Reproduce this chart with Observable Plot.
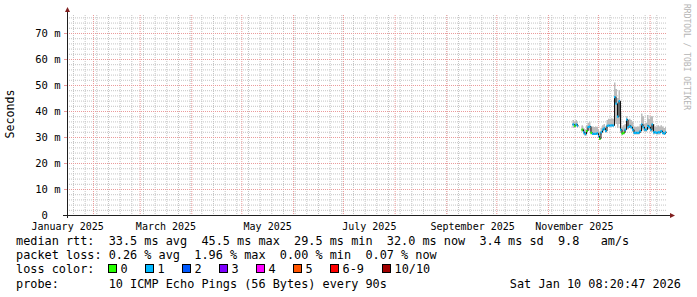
<!DOCTYPE html>
<html><head><meta charset="utf-8">
<script src="https://cdn.jsdelivr.net/npm/d3@7"></script>
<script src="https://cdn.jsdelivr.net/npm/@observablehq/plot@0.6"></script>
<style>
body{margin:0;background:#fff;}
#wrap{position:relative;width:697px;height:297px;font-family:"DejaVu Sans Mono",monospace;font-size:11.85px;color:#000;overflow:hidden;}
#wrap svg{position:absolute;left:0;top:0;}
.row{position:absolute;white-space:pre;line-height:14px;}
.box{position:absolute;width:7px;height:7px;border:1px solid #000;}
</style></head><body><div id="wrap"></div>
<script>
// ---- data ----
const dates = [
"2025-11-15T17:00Z","2025-11-16T15:00Z","2025-11-17T12:00Z","2025-11-18T10:00Z","2025-11-18T22:00Z","2025-11-19T12:00Z",
"2025-11-21T03:00Z","2025-11-22T00:00Z","2025-11-22T22:00Z","2025-11-23T20:00Z","2025-11-24T17:00Z","2025-11-25T15:00Z",
"2025-11-26T12:00Z","2025-11-27T10:00Z","2025-11-28T08:00Z","2025-11-29T05:00Z","2025-11-30T03:00Z","2025-12-01T00:00Z",
"2025-12-01T15:00Z","2025-12-02T12:00Z","2025-12-03T10:00Z","2025-12-04T08:00Z","2025-12-05T05:00Z","2025-12-06T03:00Z",
"2025-12-07T00:00Z","2025-12-07T22:00Z","2025-12-08T20:00Z","2025-12-09T17:00Z","2025-12-10T15:00Z","2025-12-11T12:00Z",
"2025-12-12T10:00Z","2025-12-13T08:00Z","2025-12-14T05:00Z","2025-12-15T03:00Z","2025-12-16T00:00Z","2025-12-16T22:00Z",
"2025-12-17T20:00Z","2025-12-18T17:00Z","2025-12-19T15:00Z","2025-12-20T12:00Z","2025-12-21T10:00Z","2025-12-22T08:00Z",
"2025-12-23T05:00Z","2025-12-24T03:00Z","2025-12-25T00:00Z","2025-12-25T22:00Z","2025-12-26T20:00Z","2025-12-27T17:00Z",
"2025-12-28T15:00Z","2025-12-29T12:00Z","2025-12-30T10:00Z","2025-12-31T08:00Z","2026-01-01T05:00Z","2026-01-02T03:00Z",
"2026-01-03T00:00Z","2026-01-03T22:00Z","2026-01-04T20:00Z","2026-01-05T17:00Z","2026-01-06T15:00Z","2026-01-07T12:00Z",
"2026-01-08T10:00Z","2026-01-09T08:00Z","2026-01-10T05:00Z","2026-01-10T20:00Z"];
const medianMs = [
35,34.5,35,34.5,34.5,null,
33,32,31.3,32.5,34,34.2,
31.8,31.4,31.4,31.4,31.6,30.5,
29.5,32,33,33.5,32.5,34.5,
34.6,34.6,34.7,34.6,45.5,43,
38,44,33,31.5,31.8,33,
36.9,34,34.5,34,33,31.8,
31.8,31.8,31.8,32.5,35,34,
33,33,34.5,34,33,35,
32,32,31.8,32,32,32.5,
31.8,31.5,32,32];
const smokeLoMs = [
33.5,33.5,34,33.5,33.5,null,
32,31,30.5,31.5,32.5,32.5,
31,31,31,31,31,29.8,
29,31,32,32.5,31.5,33.5,
34,34,34,34,36,35,
33.5,35,31.5,31,31,32,
33,33,33.5,33,32,31,
31,31,31,31.5,33,32.5,
32,32,33,33,32,32,
31,31.2,31,31,31,31.5,
31,31,31,31];
const smokeHiMs = [
36.5,36,36.5,36,36,null,
34.5,33.5,33,34.5,35.5,36,
34,34,33.8,34,33.8,33,
32,33.5,34.5,35,34,36.5,
37,37,37.2,37,51,48.5,
45,48,40,34,34.5,35,
38,36.5,37,36.5,36,34,
33.8,34,34,35,39,38,
35,35.5,38.5,37,38,38,
35,34,34,34.5,34,34.5,
34,33.5,33.8,33.8];
const lossBucket = [
1,0,1,1,1,null,
0,1,1,0,1,1,
0,1,1,1,1,1,
0,1,1,1,1,1,
1,1,1,1,1,1,
1,1,1,0,0,1,
1,1,1,1,1,1,
1,1,1,1,1,1,
1,1,1,1,1,1,
1,1,1,1,1,1,
1,1,1,1];
const lossLabels = ["0","1","2","3","4","5","6-9","10/10"];
const lossColors = ["#26ff00","#00b8ff","#0059ff","#7e00ff","#ff00ff","#ff5500","#ff0000","#a10000"];
const yTicks = [0,10,20,30,40,50,60,70];
const xLabelDates = ["2025-01-16T12:00Z","2025-03-16T12:00Z","2025-05-16T12:00Z","2025-07-16T12:00Z","2025-09-16T12:00Z","2025-11-16T12:00Z"];
const xLabelTexts = ["January 2025","March 2025","May 2025","July 2025","September 2025","November 2025"];
const xStart = "2025-01-16T10:00Z";
const xEnd = "2026-01-11T10:00Z";
const yMaxMs = 76.92;
const statsRtt = "median rtt:  33.5 ms avg  45.5 ms max  29.5 ms min  32.0 ms now  3.4 ms sd  9.8   am/s";
const statsLoss = "packet loss: 0.26 % avg  1.96 % max  0.00 % min  0.07 % now";
const lossTitle = "loss color:";
const probeText = "probe:       10 ICMP Echo Pings (56 Bytes) every 90s";
const stampText = "Sat Jan 10 08:20:47 2026";
const yTitle = "Seconds";
const watermark = "RRDTOOL / TOBI OETIKER";

// ---- build ----
const t0 = new Date(xStart), t1 = new Date(xEnd);
const rows = dates.map((d, i) => ({date: new Date(d), m: medianMs[i], lo: smokeLoMs[i], hi: smokeHiMs[i], loss: lossBucket[i]}));
const segs = [];
for (let i = 0; i < rows.length - 1; i++) {
  if (rows[i].m != null && rows[i + 1].m != null) segs.push({x1: rows[i].date, x2: rows[i + 1].date, m: rows[i].m, color: lossColors[rows[i].loss]});
}
const weeks = d3.utcMonday.range(t0, t1);
const months = d3.utcMonth.range(t0, t1);
const minorY = d3.range(2, yMaxMs, 2).filter(v => v % 10 !== 0);
const majorY = yTicks.filter(v => v > 0);
const labelDates = xLabelDates.map(d => new Date(d));
const dash = "1,1";

const plot = Plot.plot({
  width: 697, height: 232,
  marginLeft: 67, marginRight: 30, marginTop: 15, marginBottom: 17,
  style: {fontFamily: "'DejaVu Sans Mono', monospace", fontSize: "10px", background: "transparent", color: "#000"},
  x: {type: "utc", domain: [t0, t1]},
  y: {domain: [0, yMaxMs]},
  color: {type: "identity"},
  marks: [
    Plot.ruleX(weeks, {stroke: "#c4c4c4", strokeDasharray: dash}),
    Plot.ruleY(minorY, {stroke: "#c4c4c4", strokeDasharray: dash}),
    Plot.ruleX(months, {stroke: "#eb9a9a", strokeDasharray: dash}),
    Plot.ruleY(majorY, {stroke: "#eb9a9a", strokeDasharray: dash}),
    Plot.areaY(rows, {x: "date", y1: "lo", y2: "hi", curve: "step-after", fill: "#bcbcbc"}),
    Plot.line(rows, {x: "date", y: "m", curve: "step-after", stroke: "#111", strokeWidth: 1}),
    Plot.ruleY(segs, {y: "m", x1: "x1", x2: "x2", stroke: "color", strokeWidth: 2.2}),
    Plot.axisY(yTicks, {anchor: "left", tickSize: 3, tickPadding: 4, stroke: "#eb9a9a", fontSize: 10.5,
      tickFormat: d => d === 0 ? "0\u00a0\u00a0" : d + " m", fill: "#000"}),
    Plot.axisX(labelDates, {anchor: "bottom", tickSize: 0, tickPadding: 7, fontSize: 10,
      tickFormat: d => xLabelTexts[labelDates.findIndex(t => +t === +d)], fill: "#000"})
  ]
});
const wrap = document.getElementById("wrap");
wrap.appendChild(plot);

// axis lines + arrows, positioned via the scales
const sx = plot.scale("x"), sy = plot.scale("y");
const X0 = sx.apply(t0), X1 = sx.apply(t1), Y0 = sy.apply(0), Ytop = sy.apply(yMaxMs);
const svg = d3.select(plot);
svg.append("line").attr("x1", X0 - 4).attr("x2", X1 + 4).attr("y1", Y0 + 0.5).attr("y2", Y0 + 0.5).attr("stroke", "#1f1f1f");
svg.append("line").attr("x1", X0 + 0.5).attr("x2", X0 + 0.5).attr("y1", Y0 + 3).attr("y2", Ytop - 4).attr("stroke", "#1f1f1f");
svg.append("path").attr("d", `M${X0 - 2},${Ytop - 3}L${X0 + 3},${Ytop - 3}L${X0 + 0.5},${Ytop - 8}Z`).attr("fill", "#801f1f");
svg.append("path").attr("d", `M${X1 + 3},${Y0 - 2}L${X1 + 3},${Y0 + 3}L${X1 + 8},${Y0 + 0.5}Z`).attr("fill", "#801f1f");
svg.append("text").attr("transform", `translate(10,${(Y0 + Ytop) / 2 - 1}) rotate(-90)`).attr("text-anchor", "middle")
  .attr("dominant-baseline", "central").attr("font-size", "11.6px").attr("fill", "#000").text(yTitle);
svg.append("text").attr("transform", `translate(686,57) rotate(90)`).attr("text-anchor", "middle")
  .attr("dominant-baseline", "central").attr("font-size", "8px").attr("fill", "#b4b4b4").text(watermark);

// legend rows
function row(txt, left, top, extra) {
  const d = document.createElement("div");
  d.className = "row"; d.textContent = txt; d.style.left = left + "px"; d.style.top = top + "px";
  if (extra) Object.assign(d.style, extra);
  wrap.appendChild(d); return d;
}
row(statsRtt, 16, 234);
row(statsLoss, 16, 248);
row(lossTitle, 16, 262);
const boxX = [108, 145, 182, 219, 256, 293, 330, 382];
lossLabels.forEach((lab, i) => {
  const b = document.createElement("div");
  b.className = "box"; b.style.left = boxX[i] + "px"; b.style.top = "264px"; b.style.background = lossColors[i];
  wrap.appendChild(b);
  row(lab, boxX[i] + 12.5, 262);
});
row(probeText, 16, 277);
row(stampText, 0, 277, {left: "auto", right: "16px"});
</script></body></html>
